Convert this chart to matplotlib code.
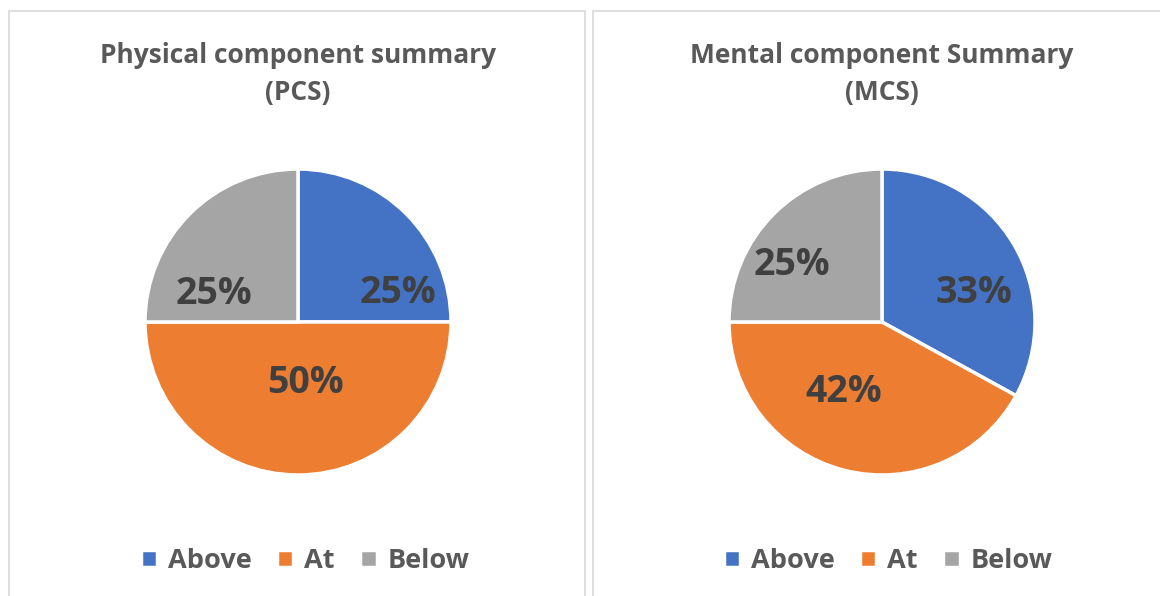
import matplotlib
matplotlib.use("Agg")
import matplotlib.pyplot as plt
from matplotlib.patches import Rectangle

categories = ["Above", "At", "Below"]
pcs_values = [25, 50, 25]
mcs_values = [33, 42, 25]
colors = ["#4472C4", "#ED7D31", "#A5A5A5"]
titles = ["Physical component summary\n(PCS)", "Mental component Summary\n(MCS)"]

# label spots inside each pie (pie radius = 1)
pcs_label_pos = [(0.65, 0.19), (0.05, -0.40), (-0.55, 0.18)]
mcs_label_pos = [(0.60, 0.19), (-0.25, -0.46), (-0.59, 0.37)]

W, H = 1160, 596
fig = plt.figure(figsize=(W / 100, H / 100), dpi=100)
plt.rcParams['font.family'] = ['Open Sans', 'DejaVu Sans']

# panel frames
for x0, x1 in [(9, 585), (593, 1175)]:
    fig.patches.append(Rectangle((x0 / W, -0.05), (x1 - x0) / W, (H - 11) / H + 0.05,
                                 transform=fig.transFigure, fill=False,
                                 edgecolor="#D9D9D9", linewidth=1.2))

R = 153
panels = [(298, pcs_values, pcs_label_pos, 305), (882, mcs_values, mcs_label_pos, 888)]
for i, (cx, vals, lpos, lx) in enumerate(panels):
    cy = 322
    ax = fig.add_axes([(cx - R) / W, (H - cy - R) / H, 2 * R / W, 2 * R / H])
    wedges, _ = ax.pie(vals, colors=colors, startangle=90, counterclock=False,
                       wedgeprops=dict(edgecolor="white", linewidth=2.5))
    ax.set_xlim(-1, 1)
    ax.set_ylim(-1, 1)
    ax.set_aspect("equal")
    for v, (px, py) in zip(vals, lpos):
        ax.text(px, py, f"{v}%", ha="center", va="center", fontsize=27,
                fontweight="bold", color="#404040")
    fig.text(cx / W, 1 - 74 / H, titles[i], ha="center", va="center",
             fontsize=19, fontweight="bold", color="#595959", linespacing=1.45)
    fig.legend(wedges, categories, loc="center", bbox_to_anchor=(lx / W, 1 - 561 / H),
               ncol=3, frameon=False, handlelength=0.6, handleheight=0.6,
               handletextpad=0.4, columnspacing=0.95,
               prop=dict(size=19.5, weight="bold"), labelcolor="#595959")

fig.savefig("out.png", dpi=100)
